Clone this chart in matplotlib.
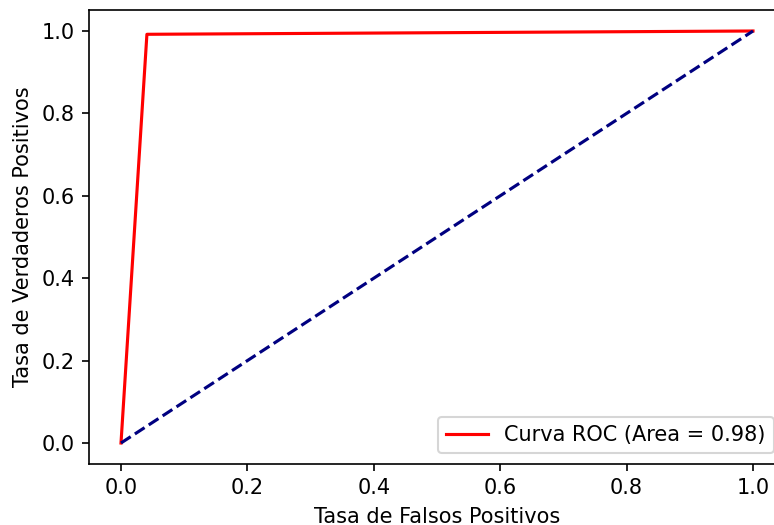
import matplotlib
matplotlib.use("Agg")
import matplotlib.pyplot as plt

fpr = [0.0, 0.041, 1.0]
tpr = [0.0, 0.992, 1.0]
diag_x = [0, 1]
diag_y = [0, 1]
roc_auc = 0.98

DPI = 150
fig = plt.figure(figsize=(774/DPI, 525/DPI), dpi=DPI)
ax = fig.add_axes([89.4/774, (525-463.6)/525, 695.2/774, 453.2/525])
ax.plot(fpr, tpr, color='red', label='Curva ROC (Area = %0.2f)' % roc_auc)
ax.plot(diag_x, diag_y, color='navy', linestyle='--')
ax.set_xlabel('Tasa de Falsos Positivos')
ax.set_ylabel('Tasa de Verdaderos Positivos')
ax.legend(loc='lower right')
fig.savefig('out.png', dpi=DPI)
